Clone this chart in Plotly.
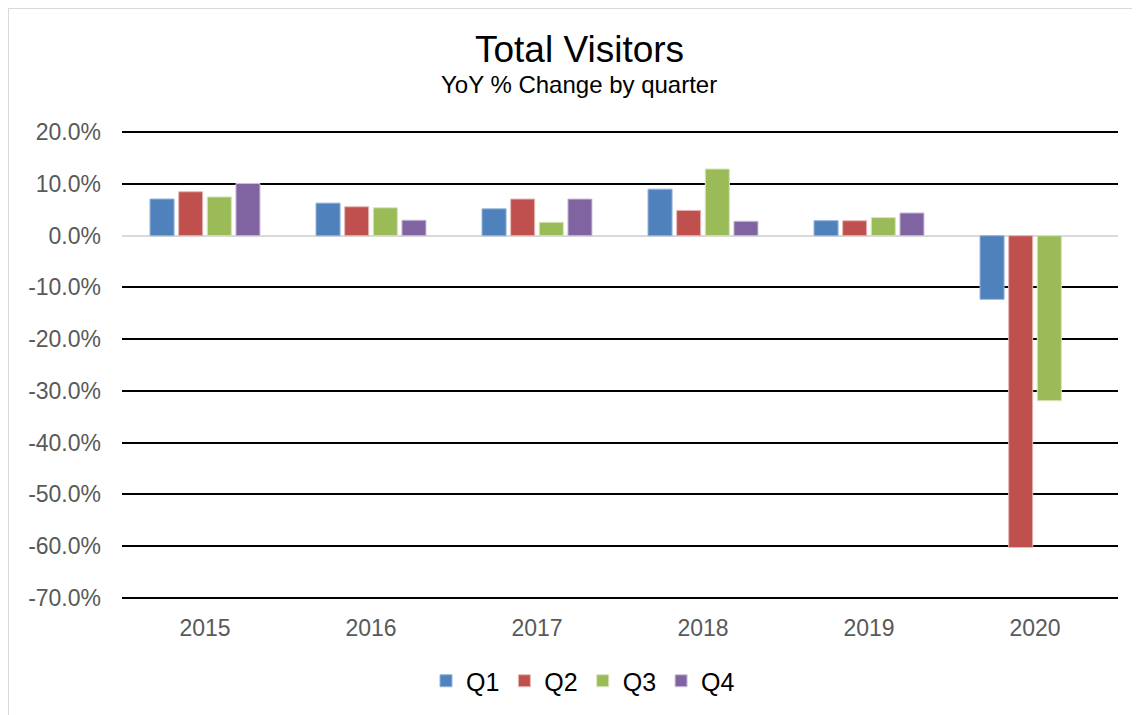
import plotly.graph_objects as go

years = ['2015', '2016', '2017', '2018', '2019', '2020']
q1 = [0.071, 0.063, 0.052, 0.090, 0.029, -0.123]
q2 = [0.085, 0.056, 0.071, 0.049, 0.029, -0.603]
q3 = [0.075, 0.054, 0.026, 0.129, 0.035, -0.319]
q4 = [0.101, 0.030, 0.071, 0.028, 0.044, None]

y_ticks = [0.2, 0.1, 0.0, -0.1, -0.2, -0.3, -0.4, -0.5, -0.6, -0.7]
y_labels = ['20.0%', '10.0%', '0.0%', '-10.0%', '-20.0%', '-30.0%',
            '-40.0%', '-50.0%', '-60.0%', '-70.0%']

series = [('Q1', q1, '#4F81BD', '#95B3D7'),
          ('Q2', q2, '#C0504D', '#E6B9B8'),
          ('Q3', q3, '#9BBB59', '#D7E4BD'),
          ('Q4', q4, '#8064A2', '#CCC1DA')]

fig = go.Figure()
for name, vals, col, edge in series:
    fig.add_trace(go.Bar(x=years, y=vals, name=name,
                         marker=dict(color=col, line=dict(color=edge, width=1))))

# page has an 8px body margin, so the figure is laid out relative to that
W, H = 1140, 715
L, R, T, B = 114, 30, 123, 124
plot_w = W - L - R
plot_h = H - T - B

def py(pix):
    return (H - B - pix) / plot_h

def px(pix):
    return (pix - L) / plot_w

fig.update_layout(
    width=W, height=H,
    margin=dict(l=L, r=R, t=T, b=B),
    plot_bgcolor='white', paper_bgcolor='white',
    barmode='group', bargap=0.31, bargroupgap=0.16,
    font=dict(family='Liberation Sans, Arial', color='#595959', size=23),
    xaxis=dict(showgrid=False, showline=False, ticks='',
               ticklabelstandoff=13,
               tickfont=dict(size=23, color='#595959')),
    yaxis=dict(range=[-0.7025, 0.2025], tickvals=y_ticks, ticktext=y_labels,
               showgrid=True, gridcolor='black', gridwidth=2,
               zeroline=True, zerolinecolor='#D9D9D9', zerolinewidth=2,
               ticks='', ticklabelstandoff=20,
               tickfont=dict(size=23, color='#595959')),
    legend=dict(orientation='h', x=px(575), xanchor='center', y=py(673), yanchor='middle',
                font=dict(size=25, color='black'), itemwidth=30, traceorder='normal'),
    annotations=[
        dict(text='Total Visitors', x=px(571), y=py(42), xref='paper', yref='paper',
             xanchor='center', yanchor='middle', showarrow=False,
             font=dict(size=37, color='black')),
        dict(text='YoY % Change by quarter', x=px(571), y=py(77), xref='paper', yref='paper',
             xanchor='center', yanchor='middle', showarrow=False,
             font=dict(size=24, color='black')),
    ],
    shapes=[dict(type='rect', xref='paper', yref='paper',
                 x0=px(0), x1=px(W + 20), y0=py(H + 20), y1=py(0),
                 line=dict(color='#D9D9D9', width=2))],
)

fig.write_html("out.html")
